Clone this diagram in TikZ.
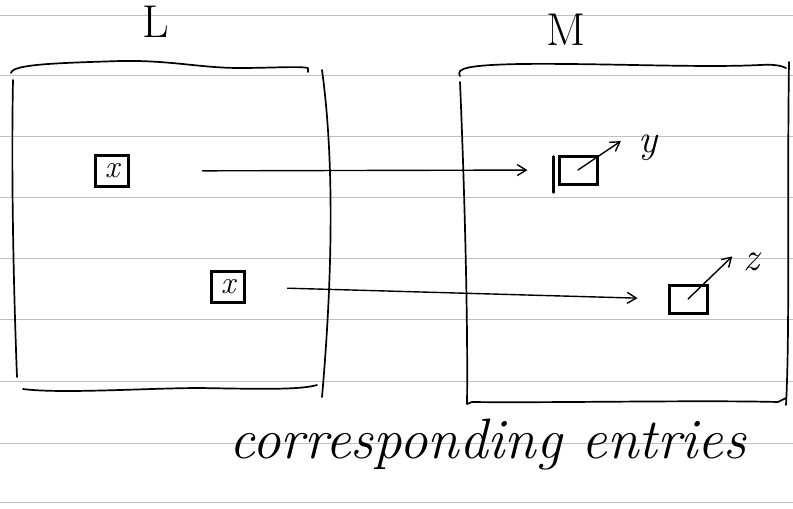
\documentclass[tikz,border=0pt]{standalone}
\usetikzlibrary{arrows.meta,calc}
\begin{document}
\begin{tikzpicture}[x=1pt,y=-1pt,
  rule/.style={gray!50, line width=0.8pt},
  ink/.style={black, line width=1.7pt, line cap=round, line join=round},
  entrybox/.style={draw, line width=2.2pt, minimum width=33pt, minimum height=31pt, inner sep=0pt, font=\fontsize{32}{32}\itshape\selectfont},
  target/.style={draw, line width=3pt, minimum width=38pt, minimum height=28pt, inner sep=0pt},
  conn/.style={black, line width=1.4pt, line cap=round, -{Straight Barb[length=9pt,width=11pt,line width=1.4pt]}},
  lab/.style={font=\fontsize{46}{46}\selectfont},
  small/.style={font=\fontsize{40}{40}\itshape\selectfont}]
\useasboundingbox (0,0) rectangle (793,509);
\fill[white] (0,0) rectangle (793,509);
\foreach \y in {15,75,136,197,258,319,381,443,502} \draw[rule] (0,\y) -- (793,\y);

% L frame
\draw[ink] (11,73) .. controls (12,64) and (60,63) .. (120,61) .. controls (170,60) and (200,68) .. (240,68) .. controls (270,68) and (300,66) .. (308,68) -- (308,72);
\draw[ink] (13,80) .. controls (11,180) and (14,300) .. (17,377);
\draw[ink] (322,70) .. controls (333,150) and (334,260) .. (322,397);
\draw[ink] (23,389) .. controls (60,394) and (150,388) .. (200,388) .. controls (260,389) and (300,390) .. (317,385);

% M frame
\draw[ink] (460,76) .. controls (455,68) and (470,65) .. (520,64) .. controls (600,63) and (700,68) .. (760,65) .. controls (775,64) and (782,66) .. (786,68);
\draw[ink] (460,82) .. controls (465,200) and (468,330) .. (467,404) -- (472,402) .. controls (550,403) and (700,400) .. (778,402) -- (786,398);
\draw[ink] (789,62) .. controls (787,200) and (790,330) .. (786,405);

% labels
\node[lab] (L) at (156,22) {L};
\node[lab] (M) at (566,30) {M};

% entry boxes
\node[entrybox] (x1) at (112,171) {x};
\node[entrybox] (x2) at (228,287) {x};
\node[target] (t1) at (578,170) {};
\node[target] (t2) at (688,299) {};
\draw[ink, line width=2.6pt] ($(t1.north west)+(-4,2)$) -- ($(t1.south west)+(-4,7)$);

\node[small] (y) at (648,148) {y};
\node[small] (z) at (751,262) {z};

% connectors
\draw[conn, shorten <=73pt, shorten >=30pt] (x1.east) -- (t1.west);
\draw[conn, shorten <=42pt, shorten >=30pt] (x2.east) -- (t2.west);
\draw[conn, shorten >=17pt] (t1.center) -- (y.north west);
\draw[conn, shorten >=10pt] (t2.center) -- (z.north west);

\node[font=\fontsize{57}{57}\itshape\selectfont, anchor=base west] (cap) at (226,458) {corresponding entries};
\end{tikzpicture}
\end{document}
